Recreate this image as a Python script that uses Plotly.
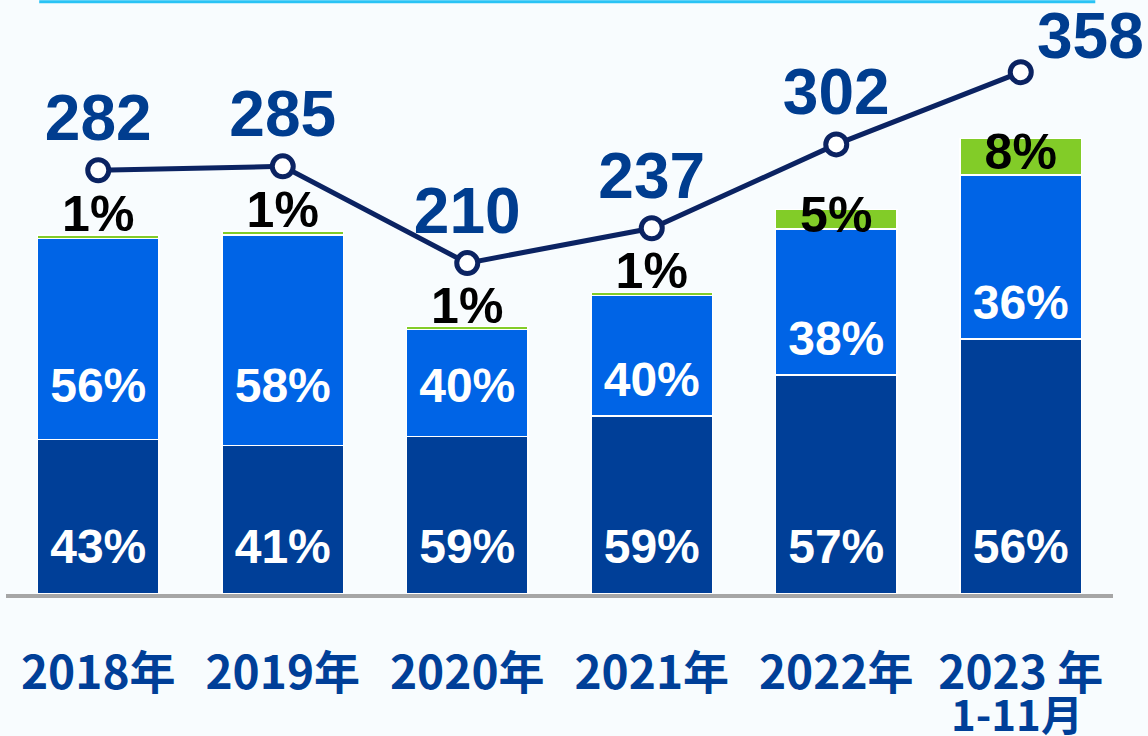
import plotly.graph_objects as go

categories = ["2018年", "2019年", "2020年", "2021年", "2022年", "2023 年"]
last_sublabel = "1-11月"
totals = [282, 285, 210, 237, 302, 358]
pct_dark = [43, 41, 59, 59, 57, 56]
pct_blue = [56, 58, 40, 40, 38, 36]
pct_green = [1, 1, 1, 1, 5, 8]

C_DARK = "#003f98"
C_BLUE = "#0064e6"
C_GREEN = "#82cc28"
C_LINE = "#0b2362"
C_LABEL = "#003d8f"
BG = "#f8fcfe"
NUMFONT = "Liberation Sans"
CJKFONT = "Noto Sans CJK SC"

x = list(range(len(categories)))
v_dark = [t * p / 100 for t, p in zip(totals, pct_dark)]
v_blue = [t * p / 100 for t, p in zip(totals, pct_blue)]
v_green = [t * p / 100 for t, p in zip(totals, pct_green)]

fig = go.Figure()
for vals, col in [(v_dark, C_DARK), (v_blue, C_BLUE), (v_green, C_GREEN)]:
    fig.add_trace(go.Bar(x=x, y=vals, marker=dict(color=col, line=dict(color="white", width=1.5)),
                         hoverinfo="skip", showlegend=False))

# labels for dark segments (near bottom)
fig.add_trace(go.Scatter(x=x, y=[34] * len(x), mode="text",
                         text=[f"{p}%" for p in pct_dark],
                         textfont=dict(family=NUMFONT, size=48, color="white", weight="bold"),
                         showlegend=False, hoverinfo="skip", cliponaxis=False))
# labels for blue segments
y_blue_lbl = [max(160, d + 25) for d in v_dark]
fig.add_trace(go.Scatter(x=x, y=y_blue_lbl, mode="text",
                         text=[f"{p}%" for p in pct_blue],
                         textfont=dict(family=NUMFONT, size=48, color="white", weight="bold"),
                         showlegend=False, hoverinfo="skip", cliponaxis=False))
# labels for green segments
y_green_lbl = [t + 13 if p < 3 else t - g / 2 for t, p, g in zip(totals, pct_green, v_green)]
fig.add_trace(go.Scatter(x=x, y=y_green_lbl, mode="text",
                         text=[f"{p}%" for p in pct_green],
                         textfont=dict(family=NUMFONT, size=50, color="black", weight="bold"),
                         showlegend=False, hoverinfo="skip", cliponaxis=False))

# total line on secondary axis (last label placed as annotation beside the marker)
line_text = [str(t) for t in totals[:-1]] + [""]
fig.add_trace(go.Scatter(x=x, y=totals, yaxis="y2", mode="lines+markers+text",
                         text=line_text, textposition="top center",
                         textfont=dict(family=NUMFONT, size=64, color=C_LABEL, weight="bold"),
                         line=dict(color=C_LINE, width=5),
                         marker=dict(size=21, color="white", line=dict(color=C_LINE, width=5)),
                         showlegend=False, hoverinfo="skip", cliponaxis=False))

fig.update_layout(
    width=1148, height=736,
    margin=dict(l=6, r=35, t=10, b=142, autoexpand=False),
    paper_bgcolor=BG, plot_bgcolor=BG,
    barmode="stack", bargap=0.344,
    xaxis=dict(tickmode="array", tickvals=x, ticktext=categories, range=[-0.5, 5.5],
               showgrid=False, zeroline=False, showline=True, linecolor="#a6a6a6", linewidth=4,
               ticks="", ticklabelstandoff=36,
               tickfont=dict(family=CJKFONT, size=46, color=C_DARK, weight="bold")),
    yaxis=dict(range=[0, 458.8], visible=False, showgrid=False, zeroline=False),
    yaxis2=dict(range=[-46.5, 406.2], overlaying="y", visible=False, showgrid=False, zeroline=False),
    shapes=[dict(type="line", xref="paper", yref="paper", x0=0.03, x1=0.984, y0=1.014, y1=1.014,
                 line=dict(color="#29c3f5", width=3))],
    annotations=[
        dict(x=x[-1], y=0, xref="x", yref="paper", yanchor="middle", yshift=-118, xshift=-4,
             text=last_sublabel, showarrow=False, borderpad=0,
             font=dict(family=CJKFONT, size=42, color=C_DARK, weight="bold")),
        dict(x=x[-1], y=totals[-1], xref="x", yref="y2", xanchor="left", yanchor="bottom",
             xshift=14, yshift=-2, text=str(totals[-1]), showarrow=False,
             font=dict(family=NUMFONT, size=64, color=C_LABEL, weight="bold")),
    ],
)

fig.write_html("out.html", config={"displayModeBar": False},
               post_script="document.body.style.margin='0px';document.body.style.background='" + BG + "';")
